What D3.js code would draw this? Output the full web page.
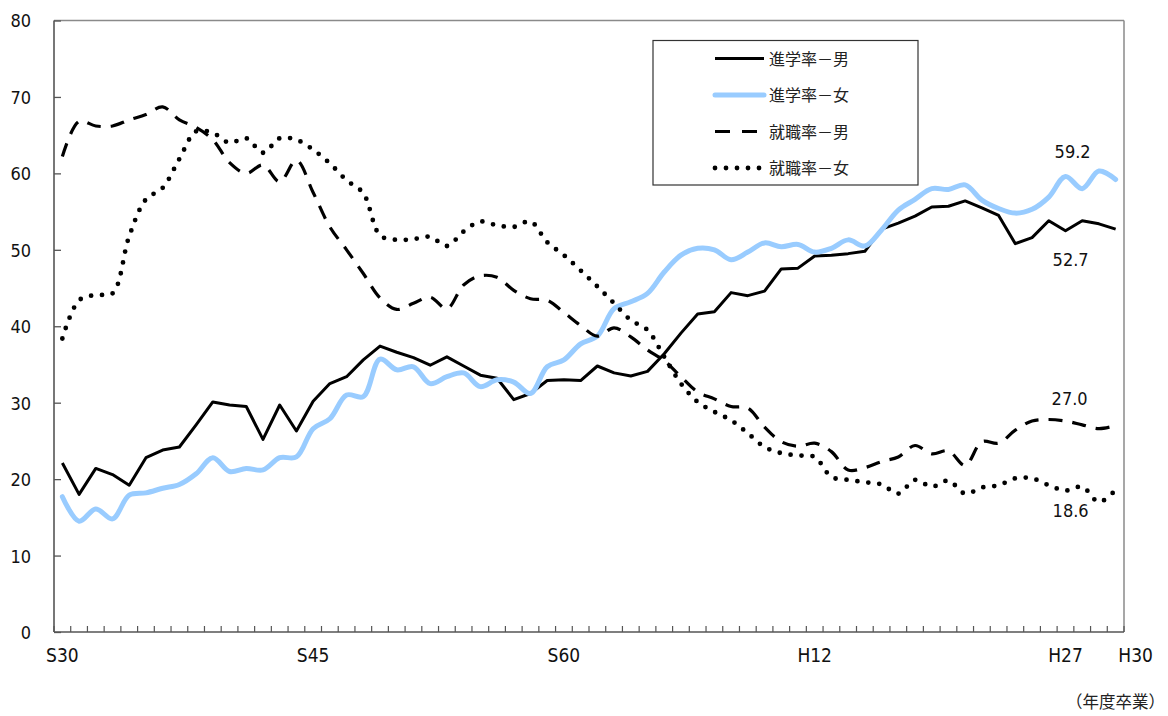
<!DOCTYPE html>
<html>
<head>
<meta charset="utf-8">
<script src="https://cdn.jsdelivr.net/npm/d3@7"></script>
<style>
  body { margin: 0; background: #fff; }
  .num { font-family: "DejaVu Sans Condensed", "DejaVu Sans", sans-serif; font-stretch: condensed; fill: #111; }
  .jp { font-family: "Noto Sans CJK JP", sans-serif; fill: #222; }
</style>
</head>
<body>
<script>
// 年度 S30 (1955) - H30 (2018)
const years = [1955, 1956, 1957, 1958, 1959, 1960, 1961, 1962, 1963, 1964,
  1965, 1966, 1967, 1968, 1969, 1970, 1971, 1972, 1973, 1974,
  1975, 1976, 1977, 1978, 1979, 1980, 1981, 1982, 1983, 1984,
  1985, 1986, 1987, 1988, 1989, 1990, 1991, 1992, 1993, 1994,
  1995, 1996, 1997, 1998, 1999, 2000, 2001, 2002, 2003, 2004,
  2005, 2006, 2007, 2008, 2009, 2010, 2011, 2012, 2013, 2014,
  2015, 2016, 2017, 2018]

const tickYears = [1955, 1970, 1985, 2000, 2015, 2018]
const tickNames = ["S30", "S45", "S60", "H12", "H27", "H30"]
const yTicks = [0, 10, 20, 30, 40, 50, 60, 70, 80]

// 進学率－男
const shingaku_m = [22.1, 18.0, 21.4, 20.6, 19.2, 22.8, 23.8, 24.2, 27.1, 30.1,
  29.7, 29.5, 25.2, 29.7, 26.3, 30.2, 32.5, 33.4, 35.6, 37.4,
  36.6, 35.9, 34.9, 36.0, 34.8, 33.6, 33.2, 30.4, 31.2, 32.9,
  33.0, 32.9, 34.8, 33.9, 33.5, 34.1, 36.4, 39.1, 41.6, 41.9,
  44.4, 44.0, 44.6, 47.5, 47.6, 49.2, 49.3, 49.5, 49.8, 52.7,
  53.5, 54.4, 55.6, 55.7, 56.4, 55.5, 54.5, 50.8, 51.6, 53.8,
  52.5, 53.8, 53.4, 52.7]

// 進学率－女
const shingaku_f = [17.7, 14.5, 16.1, 14.8, 17.9, 18.2, 18.8, 19.3, 20.7, 22.8,
  21.0, 21.4, 21.2, 22.8, 22.9, 26.6, 27.9, 31.0, 30.8, 35.7,
  34.3, 34.7, 32.5, 33.4, 33.9, 32.1, 33.0, 32.7, 31.2, 34.7,
  35.6, 37.7, 38.7, 42.3, 43.2, 44.3, 47.1, 49.3, 50.2, 50.0,
  48.7, 49.7, 50.9, 50.4, 50.7, 49.7, 50.2, 51.3, 50.5, 52.6,
  55.2, 56.6, 58.0, 57.9, 58.5, 56.5, 55.4, 54.8, 55.3, 56.9,
  59.6, 58.0, 60.3, 59.2]

// 就職率－男
const shushoku_m = [62.2, 66.8, 66.2, 66.2, 67.0, 67.7, 68.7, 67.0, 66.0, 64.4,
  61.4, 60.0, 61.1, 58.9, 61.7, 57.5, 53.0, 50.0, 46.9, 43.7,
  42.2, 43.0, 43.8, 42.3, 45.4, 46.6, 46.4, 44.7, 43.6, 43.4,
  41.8, 40.1, 38.7, 39.8, 38.6, 36.9, 35.5, 33.4, 31.4, 30.5,
  29.5, 29.3, 26.8, 24.9, 24.3, 24.7, 23.6, 21.2, 21.5, 22.3,
  22.9, 24.4, 23.3, 23.7, 21.8, 24.9, 24.7, 26.4, 27.6, 27.8,
  27.6, 27.1, 26.6, 27.0]

// 就職率－女
const shushoku_f = [38.4, 43.4, 44.1, 44.3, 51.8, 56.6, 58.1, 61.9, 65.5, 65.3,
  64.0, 64.6, 62.7, 64.6, 64.4, 63.1, 61.3, 59.1, 57.4, 51.9,
  51.3, 51.4, 51.7, 50.5, 52.4, 53.7, 53.2, 53.0, 53.7, 51.0,
  49.3, 47.3, 45.2, 43.0, 40.8, 39.5, 36.0, 32.5, 30.1, 28.8,
  27.7, 26.0, 24.2, 23.4, 23.1, 22.9, 20.3, 19.9, 19.6, 19.3,
  18.1, 19.9, 19.0, 19.8, 18.1, 18.9, 19.2, 20.1, 20.1, 19.2,
  18.5, 19.0, 17.0, 18.6]

const series_names = ["進学率－男", "進学率－女", "就職率－男", "就職率－女"]
const series_values = [shingaku_m, shingaku_f, shushoku_m, shushoku_f]

// line styles for each series
const styles = [
  { color: "#000", width: 3, dash: null, cap: "butt", smooth: false },
  { color: "#99CCFF", width: 5, dash: null, cap: "round", smooth: true },
  { color: "#000", width: 3.2, dash: "14 10", cap: "butt", smooth: true },
  { color: "#000", width: 4.8, dash: "0 11", cap: "round", smooth: true }
]

// end labels: offset from last point
const end_offsets = [[-45, 37], [-43, -21], [-46, -21], [-45, 27]]

let width = 1168, height = 716
let plot = { left: 54, right: 1124, top: 20.5, bottom: 632 }

let svg = d3.select("body").append("svg")
  .attr("width", width)
  .attr("height", height)

let x = d3.scaleBand()
  .domain(years)
  .range([plot.left, plot.right])

let cx = (yr) => x(yr) + x.bandwidth() / 2

let y = d3.scaleLinear()
  .domain([0, 80])
  .range([plot.bottom, plot.top])

// frame
svg.append("line")
  .attr("x1", plot.left).attr("x2", plot.right)
  .attr("y1", plot.top).attr("y2", plot.top)
  .style("stroke", "#8a8a8a").style("stroke-width", 1.5)
svg.append("line")
  .attr("x1", plot.right).attr("x2", plot.right)
  .attr("y1", plot.top).attr("y2", plot.bottom)
  .style("stroke", "#8a8a8a").style("stroke-width", 1.5)

// y axis, ticks pointing inward
let yAxis = d3.axisLeft(y)
  .tickValues(yTicks)
  .tickSizeInner(-7)
  .tickSizeOuter(0)
  .tickPadding(23)

let gy = svg.append("g")
  .attr("transform", `translate(${plot.left},0)`)
  .call(yAxis)
gy.select(".domain").remove()
gy.selectAll(".tick line").style("stroke", "#555").style("stroke-width", 1.3)
gy.selectAll(".tick text")
  .attr("class", "num")
  .style("font-size", "18px")
  .attr("dy", "0.36em")

svg.append("line")
  .attr("x1", plot.left).attr("x2", plot.left)
  .attr("y1", plot.top).attr("y2", plot.bottom)
  .style("stroke", "#555").style("stroke-width", 1.6)

// x axis: ticks on category boundaries, pointing up
let boundaries = years.map((yr) => x(yr)).concat([plot.right])
svg.append("g").selectAll("line")
  .data(boundaries)
  .enter().append("line")
  .attr("x1", (d) => d).attr("x2", (d) => d)
  .attr("y1", plot.bottom).attr("y2", plot.bottom - 6)
  .style("stroke", "#555").style("stroke-width", 1.2)

svg.append("line")
  .attr("x1", plot.left).attr("x2", plot.right)
  .attr("y1", plot.bottom).attr("y2", plot.bottom)
  .style("stroke", "#555").style("stroke-width", 1.6)

svg.append("g").selectAll("text")
  .data(tickYears)
  .enter().append("text")
  .attr("class", "num")
  .attr("x", (d) => cx(d))
  .attr("dx", (d, i) => i == tickYears.length - 1 ? 20 : 0)
  .attr("y", 662)
  .attr("text-anchor", "middle")
  .style("font-size", "19px")
  .text((d, i) => tickNames[i])

// lines
series_values.forEach((vals, s) => {
  let st = styles[s]
  let line = d3.line()
    .x((d, i) => cx(years[i]))
    .y((d) => y(d))
    .curve(st.smooth ? d3.curveCatmullRom.alpha(0.5) : d3.curveLinear)

  svg.append("path")
    .datum(vals)
    .attr("d", line)
    .style("fill", "none")
    .style("stroke", st.color)
    .style("stroke-width", st.width)
    .style("stroke-linecap", st.cap)
    .style("stroke-linejoin", "round")
    .style("stroke-dasharray", st.dash)
})

// end value labels
series_values.forEach((vals, s) => {
  let last = vals.length - 1
  svg.append("text")
    .attr("class", "num")
    .attr("x", cx(years[last]) + end_offsets[s][0])
    .attr("y", y(vals[last]) + end_offsets[s][1])
    .attr("text-anchor", "middle")
    .style("font-size", "18px")
    .text(vals[last].toFixed(1))
})

// legend
let legend = svg.append("g")
  .attr("transform", "translate(653,40.5)")

legend.append("rect")
  .attr("x", 0).attr("y", 0)
  .attr("width", 265).attr("height", 144.5)
  .style("fill", "#fff")
  .style("stroke", "#333")
  .style("stroke-width", 1.2)

let rows = legend.selectAll(".row")
  .data(series_names)
  .enter().append("g")
  .attr("class", "row")
  .attr("transform", (d, i) => `translate(0,${18 + i * 36.5})`)

rows.append("line")
  .attr("x1", 62).attr("x2", 111)
  .attr("y1", 0).attr("y2", 0)
  .style("stroke", (d, i) => styles[i].color)
  .style("stroke-width", (d, i) => styles[i].width)
  .style("stroke-linecap", (d, i) => styles[i].cap)
  .style("stroke-dasharray", (d, i) => i == 2 ? "15 12" : styles[i].dash)

rows.append("text")
  .attr("class", "jp")
  .attr("x", 116)
  .attr("y", 6)
  .style("font-size", "16px")
  .text((d) => d)

// unit note
svg.append("text")
  .attr("class", "jp")
  .attr("x", 1165)
  .attr("y", 708)
  .attr("text-anchor", "end")
  .style("font-size", "16.5px")
  .text("（年度卒業）")
</script>
</body>
</html>
